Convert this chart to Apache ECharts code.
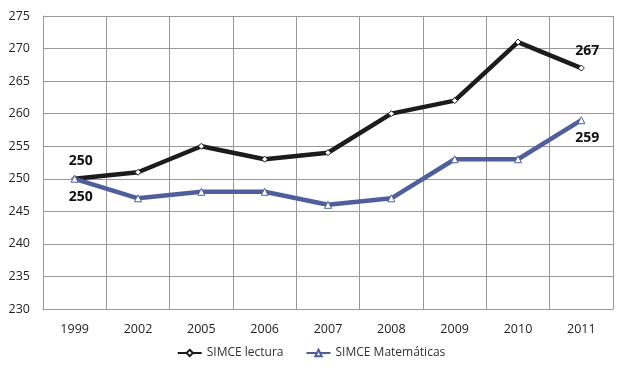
<!DOCTYPE html>
<html><head><meta charset="utf-8">
<script src="https://cdn.jsdelivr.net/npm/echarts@6/dist/echarts.min.js"></script>
<style>html,body{margin:0;padding:0;background:#fff}#c{width:622px;height:368px}</style>
</head><body><div id="c"></div>
<script>
const years = ['1999','2002','2005','2006','2007','2008','2009','2010','2011'];
const lectura = [250, 251, 255, 253, 254, 260, 262, 271, 267];
const matematicas = [250, 247, 248, 248, 246, 247, 253, 253, 259];
const seriesNames = ['SIMCE lectura', 'SIMCE Matemáticas'];
const labelLectura = [0, 8];
const labelMat = [0, 8];

const font = '"Open Sans", "Noto Sans", sans-serif';
const chart = echarts.init(document.getElementById('c'), null, {renderer: 'canvas'});
function withLabels(vals, idx, pos) {
  return vals.map((v, i) => idx.includes(i)
    ? {value: v, label: {show: true, position: pos, distance: 7, offset: [6, 0], fontWeight: 'bold', fontSize: 14, color: '#111', fontFamily: font}}
    : v);
}
chart.setOption({
  animation: false,
  grid: {left: 43, right: 9, top: 16, bottom: 59},
  legend: {
    bottom: 4, left: 'center', itemWidth: 24, itemHeight: 8, itemGap: 22,
    textStyle: {fontFamily: font, fontSize: 12, color: '#333'},
    data: seriesNames
  },
  xAxis: {
    type: 'category', data: years, boundaryGap: true,
    axisLine: {lineStyle: {color: '#999'}}, axisTick: {show: false},
    axisLabel: {fontFamily: font, fontSize: 12.5, color: '#222', margin: 14},
    splitLine: {show: true, lineStyle: {color: '#999', width: 1}}
  },
  yAxis: {
    type: 'value', min: 230, max: 275, interval: 5,
    axisLine: {show: true, lineStyle: {color: '#999'}}, axisTick: {show: false},
    axisLabel: {fontFamily: font, fontSize: 12.5, color: '#222', margin: 13},
    splitLine: {lineStyle: {color: '#999', width: 1}}
  },
  series: [
    {
      name: seriesNames[0], type: 'line', data: withLabels(lectura, labelLectura, 'top'),
      symbol: 'diamond', symbolSize: 6,
      lineStyle: {color: '#1c1c1c', width: 4.5},
      itemStyle: {color: '#fff', borderColor: '#1c1c1c', borderWidth: 1},
      label: {show: false}
    },
    {
      name: seriesNames[1], type: 'line', data: withLabels(matematicas, labelMat, 'bottom'),
      symbol: 'triangle', symbolSize: 7,
      lineStyle: {color: '#4f5f9e', width: 4.5},
      itemStyle: {color: '#fff', borderColor: '#4f5f9e', borderWidth: 1},
      label: {show: false}
    }
  ]
});
</script></body></html>
